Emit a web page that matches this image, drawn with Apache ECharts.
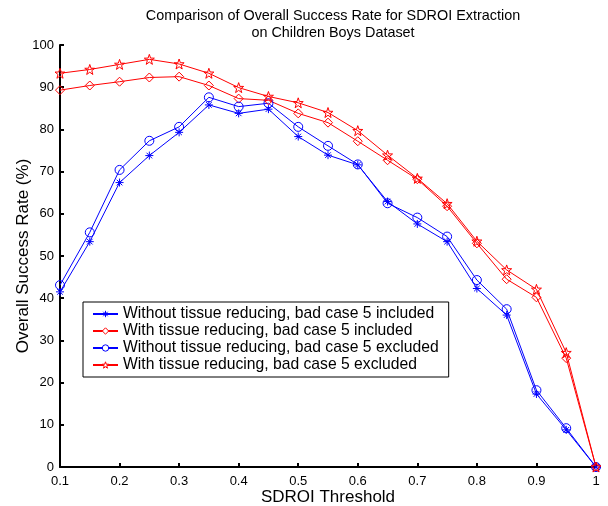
<!DOCTYPE html>
<html><head><meta charset="utf-8">
<script src="https://cdn.jsdelivr.net/npm/echarts@6/dist/echarts.min.js"></script>
<style>html,body{margin:0;padding:0;background:#fff}#c{width:608px;height:506px}</style>
</head><body><div id="c"></div>
<script>
const thresholds = [0.1,0.15,0.2,0.25,0.3,0.35,0.4,0.45,0.5,0.55,0.6,0.65,0.7,0.75,0.8,0.85,0.9,0.95,1.0];
const withoutIncluded = [41.5,53.4,67.4,73.8,79.3,85.8,83.8,84.8,78.3,73.9,71.6,62.9,57.6,53.4,42.3,36.0,17.3,8.8,0];
const withIncluded    = [89.3,90.4,91.3,92.3,92.5,90.4,87.3,86.9,83.8,81.6,77.2,72.7,68.2,61.8,53.0,44.5,40.2,25.8,0];
const withoutExcluded = [43.1,55.6,70.4,77.3,80.6,87.6,85.4,86.2,80.6,76.1,71.7,62.5,59.1,54.6,44.3,37.4,18.2,9.2,0];
const withExcluded    = [93.3,94.2,95.4,96.6,95.5,93.3,89.9,87.8,86.3,84.0,79.7,73.9,68.4,62.4,53.5,46.7,42.1,27.1,0];
const seriesNames = [
  'Without tissue reducing, bad case 5 included',
  'With tissue reducing, bad case 5 included',
  'Without tissue reducing, bad case 5 excluded',
  'With tissue reducing, bad case 5 excluded'
];
const yTicks = [0,10,20,30,40,50,60,70,80,90,100];

const asterisk = 'path://M0,-5L0,5M-5,0L5,0M-3.5,-3.5L3.5,3.5M-3.5,3.5L3.5,-3.5';
const star = 'path://M0,-5L1.18,-1.62L4.76,-1.55L1.9,0.62L2.94,4.05L0,2L-2.94,4.05L-1.9,0.62L-4.76,-1.55L-1.18,-1.62Z';
const blue = '#0000ff', red = '#ff0000';
const colors = [blue, red, blue, red];
const symbols = [asterisk, 'diamond', 'circle', star];
const sizes = [8, 9, 9, 10];
function pairs(vals){ return thresholds.map((t,i)=>[t, vals[i]]); }
function mk(i, vals){
  const color = colors[i];
  return {
    name: seriesNames[i], type:'line', data: pairs(vals), symbol: symbols[i], symbolSize: sizes[i], showAllSymbol:true,
    lineStyle:{color, width:1}, itemStyle:{color:'rgba(255,255,255,0)', borderColor:color, borderWidth:1},
    emphasis:{disabled:true}, animation:false, z: 3
  };
}
const font = 'Liberation Sans, Arial';
const chart = echarts.init(document.getElementById('c'), null, {renderer:'canvas'});
chart.setOption({
  backgroundColor:'#fff',
  animation:false,
  title:{
    text:'Comparison of Overall Success Rate for SDROI Extraction\non Children Boys Dataset',
    left:328, top:3, textAlign:'center',
    textStyle:{fontFamily:font, fontSize:14.4, fontWeight:'normal', color:'#000', lineHeight:17}
  },
  grid:{left:60, right:12, top:45, bottom:39, outerBoundsMode:'none', containLabel:false},
  legend:{
    orient:'vertical', left:83, top:302,
    itemWidth:25, itemHeight:8, itemGap:1,
    padding:[4,10,4,9],
    borderColor:'#000', borderWidth:1, borderRadius:0, backgroundColor:'#fff',
    textStyle:{fontFamily:font, fontSize:15.7, color:'#000'},
    itemStyle:{color:'#fff', borderWidth:1},
    data: seriesNames.map((n,i)=>({name:n,
      itemStyle:{color:'#fff', borderColor:colors[i], borderWidth:1}}))
  },
  xAxis:{
    type:'value', min:0.1, max:1, interval:0.1,
    name:'SDROI Threshold', nameLocation:'middle', nameGap:22, nameMoveOverlap:false,
    nameTextStyle:{fontFamily:font, fontSize:17, color:'#000'},
    axisLine:{lineStyle:{color:'#000', width:2}},
    axisTick:{inside:true, length:4, lineStyle:{color:'#000', width:2}},
    axisLabel:{fontFamily:font, fontSize:13, color:'#000', margin:8,
      formatter:v=>{const r=Math.round(v*10)/10; return r===1?'1':r.toFixed(1);}},
    splitLine:{show:false}
  },
  yAxis:{
    type:'value', min:0, max:100, interval:10,
    name:'Overall Success Rate (%)', nameLocation:'middle', nameGap:28, nameMoveOverlap:false,
    nameTextStyle:{fontFamily:font, fontSize:17, color:'#000'},
    axisLine:{show:true, lineStyle:{color:'#000', width:2}},
    axisTick:{show:true, inside:true, length:4, lineStyle:{color:'#000', width:2}},
    axisLabel:{fontFamily:font, fontSize:13, color:'#000', margin:6,
      formatter:v=>yTicks.includes(v)?String(v):''},
    splitLine:{show:false}
  },
  series:[
    mk(0, withoutIncluded),
    mk(1, withIncluded),
    mk(2, withoutExcluded),
    mk(3, withExcluded)
  ]
});
</script></body></html>
